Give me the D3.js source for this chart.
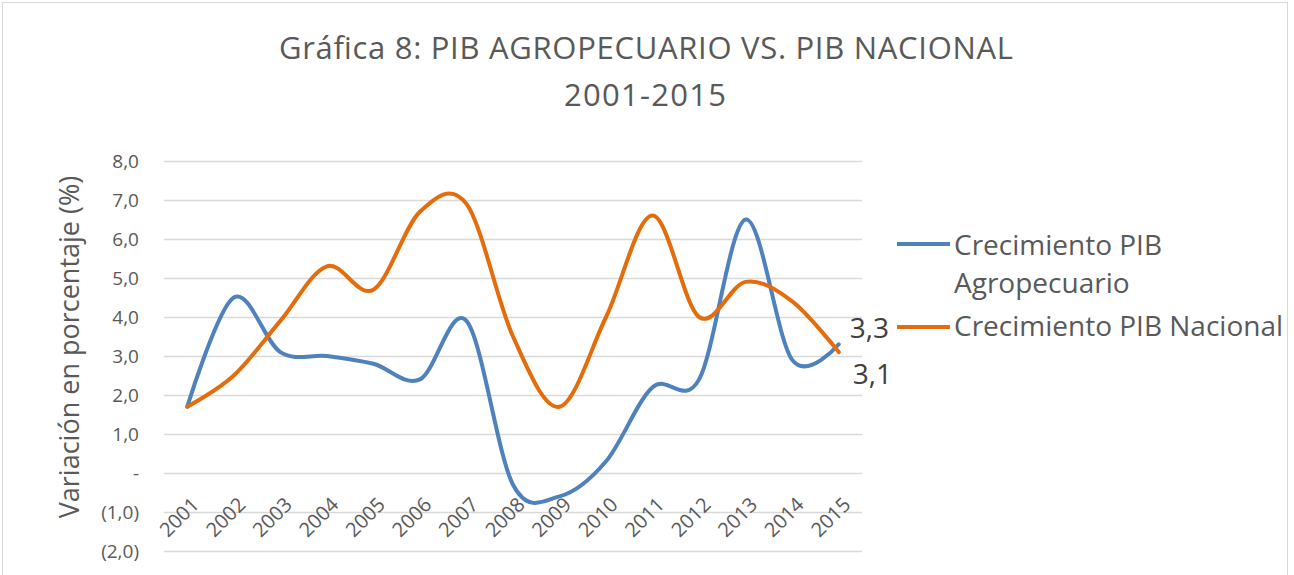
<!DOCTYPE html>
<html>
<head>
<meta charset="utf-8">
<script src="https://cdn.jsdelivr.net/npm/d3@7"></script>
<style>
  body { margin: 0; background: #fff; }
  text { font-family: "Open Sans", sans-serif; }
</style>
</head>
<body>
<svg id="chart" width="1294" height="575"></svg>
<script>
// chart data
const years = ["2001","2002","2003","2004","2005","2006","2007","2008","2009","2010","2011","2012","2013","2014","2015"];
const agro = [1.7, 4.5, 3.1, 3.0, 2.8, 2.4, 3.9, -0.3, -0.6, 0.3, 2.2, 2.4, 6.5, 2.9, 3.3];
const nacional = [1.7, 2.5, 3.9, 5.3, 4.7, 6.7, 6.9, 3.5, 1.7, 4.0, 6.6, 4.0, 4.9, 4.4, 3.1];
const yTicks = [8, 7, 6, 5, 4, 3, 2, 1, 0, -1, -2];
const seriesNames = ["Crecimiento PIB Agropecuario", "Crecimiento PIB Nacional"];

const svg = d3.select("#chart");

// outer border
svg.append("rect")
  .attr("x", 2.5).attr("y", 2.5)
  .attr("width", 1285).attr("height", 580)
  .attr("fill", "none").attr("stroke", "#d9d9d9");

const plotLeft = 164, plotRight = 862, plotTop = 161, plotBottom = 551;

const x = d3.scaleBand().domain(years).range([plotLeft, plotRight]);
const y = d3.scaleLinear().domain([-2, 8]).range([plotBottom, plotTop]);

// title
svg.append("text")
  .attr("x", 646).attr("y", 59)
  .attr("text-anchor", "middle")
  .attr("font-size", "31px").attr("fill", "#595959")
  .attr("textLength", 734).attr("lengthAdjust", "spacing")
  .text("Gráfica 8: PIB AGROPECUARIO VS. PIB NACIONAL");
svg.append("text")
  .attr("x", 645).attr("y", 106)
  .attr("text-anchor", "middle")
  .attr("font-size", "31px").attr("fill", "#595959")
  .attr("textLength", 162).attr("lengthAdjust", "spacing")
  .text("2001-2015");

// gridlines
svg.append("g")
  .selectAll("line")
  .data(yTicks)
  .enter().append("line")
  .attr("x1", plotLeft).attr("x2", plotRight)
  .attr("y1", d => Math.round(y(d)) + 0.5)
  .attr("y2", d => Math.round(y(d)) + 0.5)
  .attr("stroke", "#d9d9d9").attr("stroke-width", 1.3);

// y axis labels
const yFmt = d => {
  if (d === 0) return "-";
  const s = Math.abs(d).toFixed(1).replace(".", ",");
  return d < 0 ? "(" + s + ")" : s;
};
const yAxis = d3.axisLeft(y).tickValues(yTicks).tickFormat(yFmt).tickSize(0).tickPadding(0);
const gy = svg.append("g")
  .attr("transform", "translate(139,0)")
  .call(yAxis);
gy.select(".domain").remove();
gy.selectAll("text")
  .attr("font-size", "19px").attr("fill", "#595959")
  .attr("font-family", "Open Sans, sans-serif");

svg.append("text")
  .attr("transform", "translate(79,347) rotate(-90)")
  .attr("text-anchor", "middle")
  .attr("font-size", "27px").attr("fill", "#595959")
  .text("Variación en porcentaje (%)");

// x axis labels (rotated)
const xAxis = d3.axisBottom(x).tickSize(0).tickPadding(0);
const gx = svg.append("g")
  .attr("transform", "translate(0," + y(0) + ")")
  .call(xAxis);
gx.select(".domain").remove();
gx.selectAll("text")
  .attr("font-size", "20px").attr("fill", "#595959")
  .attr("font-family", "Open Sans, sans-serif")
  .attr("text-anchor", "end")
  .attr("dy", "0")
  .attr("transform", "translate(13,33) rotate(-45)");

// lines
const line = d3.line()
  .x((d, i) => x(years[i]) + x.bandwidth() / 2)
  .y(d => y(d))
  .curve(d3.curveCatmullRom.alpha(0));

const colors = ["#4f81bd", "#e46c0a"];
[agro, nacional].forEach((s, k) => {
  svg.append("path")
    .datum(s)
    .attr("d", line)
    .attr("fill", "none")
    .attr("stroke", colors[k])
    .attr("stroke-width", 4)
    .attr("stroke-linecap", "round");
});

// end labels
const lastX = x(years[years.length - 1]) + x.bandwidth() / 2;
svg.append("text")
  .attr("x", lastX + 11).attr("y", y(agro[agro.length - 1]) - 6)
  .attr("font-size", "28px").attr("fill", "#404040")
  .text(agro[agro.length - 1].toFixed(1).replace(".", ","));
svg.append("text")
  .attr("x", lastX + 14).attr("y", y(nacional[nacional.length - 1]) + 32)
  .attr("font-size", "28px").attr("fill", "#404040")
  .text(nacional[nacional.length - 1].toFixed(1).replace(".", ","));

// legend
const lg = svg.append("g");
lg.append("line").attr("x1", 897).attr("x2", 950).attr("y1", 244).attr("y2", 244)
  .attr("stroke", colors[0]).attr("stroke-width", 4);
lg.append("text").attr("x", 954).attr("y", 255)
  .attr("font-size", "28px").attr("fill", "#595959").text("Crecimiento PIB");
lg.append("text").attr("x", 954).attr("y", 293)
  .attr("font-size", "28px").attr("fill", "#595959").text("Agropecuario");
lg.append("line").attr("x1", 897).attr("x2", 950).attr("y1", 327).attr("y2", 327)
  .attr("stroke", colors[1]).attr("stroke-width", 4);
lg.append("text").attr("x", 954).attr("y", 336)
  .attr("font-size", "28px").attr("fill", "#595959").text(seriesNames[1]);
</script>
</body>
</html>
